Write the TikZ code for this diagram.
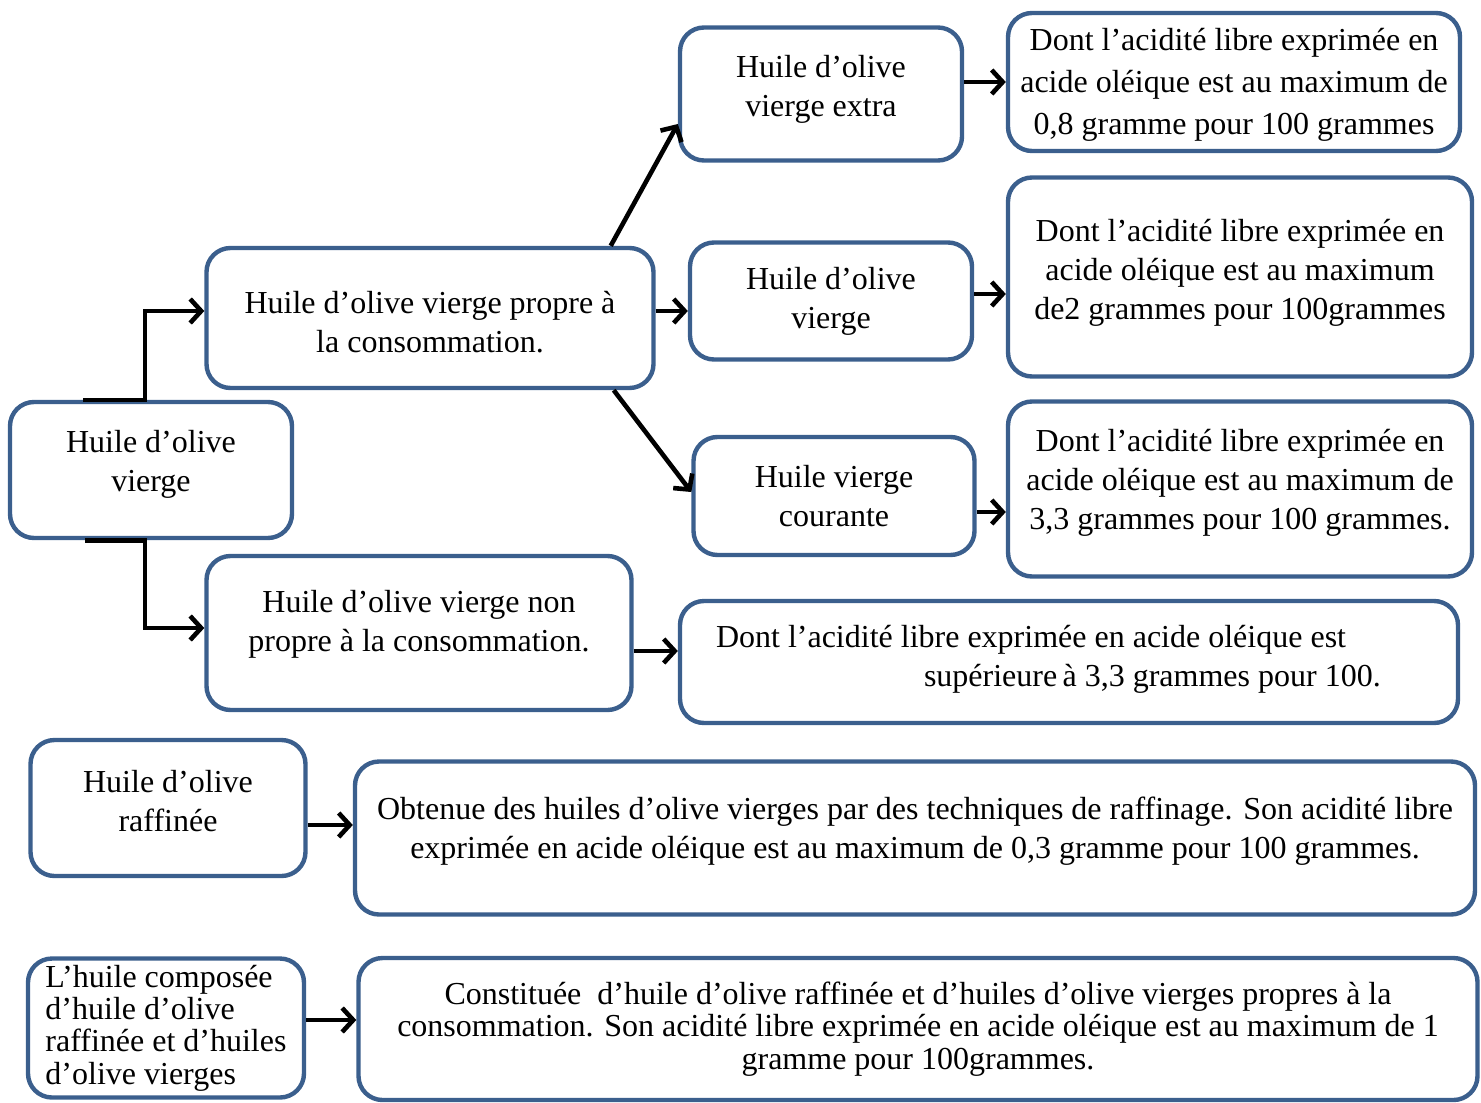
\documentclass[tikz,border=0pt]{standalone}
\usepackage{fontspec}
\setmainfont{Liberation Serif}
\usetikzlibrary{arrows.meta, calc, positioning}
\definecolor{boxblue}{HTML}{3B5F8D}

\begin{document}
\begin{tikzpicture}[x=0.5pt,y=-0.5pt,
	box/.style={draw=boxblue, line width=2.2pt, rounded corners=12pt, fill=white, align=center, inner sep=2pt, font=\fontsize{16}{19.5}\selectfont},
	tight/.style={font=\fontsize{16}{16.2}\selectfont},
	conn/.style={line width=2.3pt, -{Straight Barb[length=5.5pt,width=12pt,line width=2.3pt]}}]
					\useasboundingbox (0,0) rectangle (1481,1102);

					% huile vierge et ses categories
					\node[box, text depth=9.5pt, minimum width=141pt, minimum height=68pt] (HV) at (151,470) {Huile d’olive\\ vierge};
					\node[box, text height=35pt, minimum width=223.5pt, minimum height=70pt] (HVP) at (430,318) {Huile d’olive vierge propre à\\ la consommation.};
					\node[box, text depth=12.5pt, minimum width=212.5pt, minimum height=77pt] (HVN) at (419,633) {Huile d’olive vierge non\\ propre à la consommation.};

					\node[box, text depth=8.5pt, minimum width=141pt, minimum height=66.5pt] (HVE) at (821,94) {Huile d’olive\\ vierge extra};
					\node[box, minimum width=141pt, minimum height=58.5pt] (HVV) at (831,301) {Huile d’olive\\ vierge};
					\node[box, minimum width=140.5pt, minimum height=59pt] (HVC) at (834,496) {Huile vierge\\ courante};

					\node[box, font=\fontsize{16}{21}\selectfont, text height=56pt, minimum width=226pt, minimum height=69pt] (AVE) at (1234,82) {Dont l’acidité libre exprimée en\\ acide oléique est au maximum de\\ 0,8 gramme pour 100 grammes};
					\node[box, text depth=7.5pt, minimum width=232pt, minimum height=99.5pt] (AVV) at (1240,277) {Dont l’acidité libre exprimée en\\ acide oléique est au maximum\\ de2 grammes pour 100grammes};
					\node[box, text depth=9.5pt, minimum width=232pt, minimum height=87.5pt] (AVC) at (1240,489) {Dont l’acidité libre exprimée en\\ acide oléique est au maximum de\\ 3,3 grammes pour 100 grammes.};
					\node[box, align=flush left, text width=353pt, inner xsep=18pt, text depth=25.5pt, minimum height=61pt] (AVN) at (1069,662) {Dont l’acidité libre exprimée en acide oléique est\\ \hspace*{104pt}supérieure\,à 3,3 grammes pour 100.};

					% huile raffinee et huile composee
					\node[box, text depth=7.6pt, minimum width=137.5pt, minimum height=68pt] (HR) at (168,808) {Huile d’olive\\ raffinée};
					\node[box, text depth=10pt, minimum width=560pt, minimum height=76.5pt] (AR) at (915,838) {Obtenue des huiles d’olive vierges par des techniques de raffinage. Son acidité libre\\ exprimée en acide oléique est au maximum de 0,3 gramme pour 100 grammes.};
					\node[box, tight, align=left, minimum width=138pt, minimum height=69.5pt] (HC) at (166,1028) {L’huile composée\\ d’huile d’olive\\ raffinée et d’huiles\\ d’olive vierges};
					\node[box, tight, minimum width=559.5pt, minimum height=71pt] (AC) at (918,1029) {Constituée\ \ d’huile d’olive raffinée et d’huiles d’olive vierges propres à la\\ consommation. Son acidité libre exprimée en acide oléique est au maximum de 1\\ gramme pour 100grammes.};

					\draw[conn] ([xshift=-34pt]HV.north) -- ([xshift=-3pt]HV.north) |- ([yshift=3.5pt]HVP.west);
					\draw[conn] ([xshift=-33pt]HV.south) -- ([xshift=-3pt]HV.south) |- ([yshift=2.5pt]HVN.west);

					\draw[conn] ([xshift=-22.5pt]HVP.north east) -- ([yshift=-15pt]HVE.west);
					\draw[conn] ([yshift=3.5pt]HVP.east) -- ([yshift=3.5pt]HVP.east -| HVV.west);
					\draw[conn] ([xshift=-21pt]HVP.south east) -- ([yshift=2pt]HVC.west);

					\draw[conn] (HVE.east |- AVE.west) -- (AVE.west);
					\draw[conn] ([yshift=3.5pt]HVV.east) -- ([yshift=3.5pt]HVV.east -| AVV.west);
					\draw[conn] ([yshift=-8pt]HVC.east) -- ([yshift=-8pt]HVC.east -| AVC.west);
					\draw[conn] ([yshift=-9pt]HVN.east) -- ([yshift=-9pt]HVN.east -| AVN.west);

					\draw[conn] ([yshift=-8.5pt]HR.east) -- ([yshift=-8.5pt]HR.east -| AR.west);
					\draw[conn] ([yshift=4pt]HC.east) -- ([yshift=4pt]HC.east -| AC.west);
				\end{tikzpicture}
\end{document}
